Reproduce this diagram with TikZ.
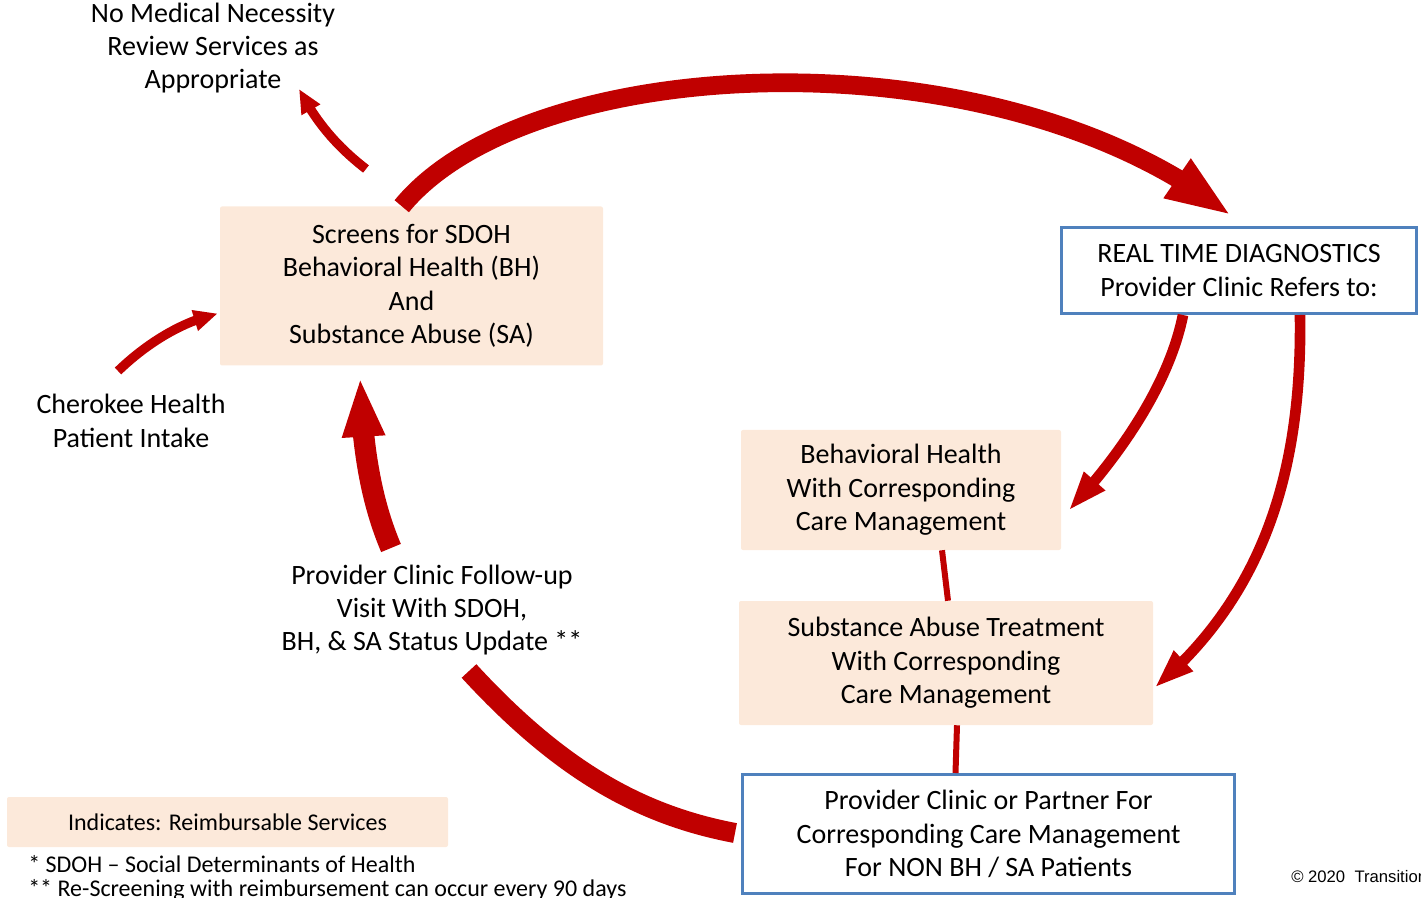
\documentclass[tikz,border=0pt]{standalone}
\usepackage{fontspec}
\setmainfont{Carlito}
\newfontfamily\arialfont{Liberation Sans}
\usetikzlibrary{arrows.meta,bending,calc}
\definecolor{arrred}{HTML}{C00000}
\definecolor{peach}{HTML}{FCE9DA}
\definecolor{boxblue}{HTML}{4F81BD}
\begin{document}
\begin{tikzpicture}[x=.75pt,y=-.75pt,font=\fontsize{21}{25}\selectfont,
  svcbox/.style={fill=peach,rounded corners=1.5pt,align=center,inner sep=0pt},
  refbox/.style={draw=boxblue,line width=2.25pt,align=center,inner sep=0pt},
  redline/.style={draw=arrred,line width=#1},
  smallhead/.style={-{Triangle[length=18pt,width=15pt]}},
  midhead/.style={-{Triangle[length=30pt,width=19pt]}}]
\useasboundingbox (0,0) rectangle (1421,898);

\node[svcbox,minimum width=287.25pt,minimum height=119.25pt] (screens) at (411.5,286)
  {Screens for SDOH\\Behavioral Health (BH)\\And\\Substance Abuse (SA)};
\node[refbox,minimum width=266.25pt,minimum height=64.5pt] (realtime) at (1239,270.5)
  {REAL TIME DIAGNOSTICS\\Provider Clinic Refers to:};
\node[svcbox,minimum width=240pt,minimum height=90pt] (bh) at (901,490)
  {Behavioral Health\\With Corresponding\\Care Management};
\node[svcbox,minimum width=310.5pt,minimum height=93pt] (sa) at (946,663)
  {Substance Abuse Treatment\\With Corresponding\\Care Management};
\node[refbox,minimum width=369pt,minimum height=89.25pt] (provider) at (988.5,834)
  {Provider Clinic or Partner For\\Corresponding Care Management\\For NON BH / SA Patients};
\node[svcbox,minimum width=330.75pt,minimum height=37.5pt,font=\fontsize{18}{22}\selectfont] (legend) at (227.5,822)
  {Indicates: Reimbursable Services};

\node[align=center] (nomed) at (213,48) {No Medical Necessity\\Review Services as\\Appropriate};
\node[align=center] (cherokee) at (131,421) {Cherokee Health\\Patient Intake};
\node[align=center] (followup) at (432,610) {Provider Clinic Follow-up\\Visit With SDOH,\\BH, \& SA Status Update **};
\node[anchor=west,inner sep=0pt,font=\fontsize{18}{22}\selectfont] (note1) at (28,864) {* SDOH -- Social Determinants of Health};
\node[anchor=west,inner sep=0pt,font=\fontsize{18}{22}\selectfont] (note2) at (28,890) {** Re-Screening with reimbursement can occur every 90 days};
\node[anchor=west,inner sep=0pt,font=\arialfont\fontsize{12.5}{15}\selectfont] (copy) at (1291,877) {© 2020\ \ Transition};

\coordinate (nmtail) at (366,169); \coordinate (nmtip) at (299,89);
\coordinate (chtail) at (118,371);
\coordinate (futail) at (391,548);
\coordinate (batail) at (469,671);

\draw[redline=14pt,-{Triangle[length=50pt,width=32pt]}] ($(screens.north west)+(182,0)$)
  .. controls (530,50) and (1000,30) .. ($(realtime.north)+(-7,-10)$);
\draw[redline=7pt,smallhead] (nmtail) .. controls (335,145) and (315,120) .. (nmtip);
\draw[redline=7pt,smallhead] (chtail) .. controls (145,345) and (180,322) .. ($(screens.west)+(-2,27.5)$);
\draw[redline=16pt,-{Triangle[length=45pt,width=29pt]}] (futail)
  .. controls (375,510) and (362,460) .. ($(screens.south)+(-51.5,11)$);
\draw[redline=15pt] (batail) .. controls (560,770) and (640,815) .. ($(provider.west)+(-6,-1)$);
\draw[redline=8pt,midhead] ($(realtime.south)+(-56,0)$) .. controls (1170,380) and (1125,450) .. ($(bh.east)+(7,21)$);
\draw[redline=8pt,midhead] ($(realtime.south)+(61,0)$) .. controls (1302,460) and (1270,590) .. ($(sa.east)+(1,25)$);
\draw[redline=4.5pt] ($(bh.south)+(41,0)$) -- ($(sa.north)+(2,0)$);
\draw[redline=4.5pt] ($(sa.south)+(11,0)$) -- ($(provider.north)+(-33,0)$);
\end{tikzpicture}
\end{document}
